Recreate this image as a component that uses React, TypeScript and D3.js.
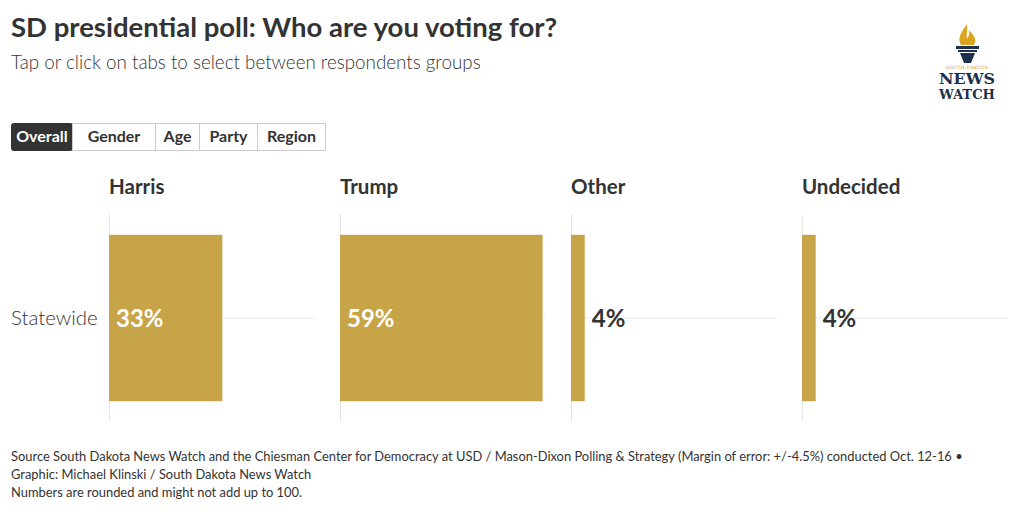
import React, { useEffect } from 'react';
import * as d3 from 'd3';

const title = 'SD presidential poll: Who are you voting for?';
const subtitle = 'Tap or click on tabs to select between respondents groups';
const tabs = ['Overall', 'Gender', 'Age', 'Party', 'Region'];
const tabWidths = [61, 83, 44, 58, 68];
const candidates = ['Harris', 'Trump', 'Other', 'Undecided'];
const groups = ['Statewide'];
const values = [[33, 59, 4, 4]];
const footer = [
    'Source South Dakota News Watch and the Chiesman Center for Democracy at USD / Mason-Dixon Polling & Strategy (Margin of error: +/-4.5%) conducted Oct. 12-16 \u2022',
    'Graphic: Michael Klinski / South Dakota News Watch',
    'Numbers are rounded and might not add up to 100.',
];

const width = 1020;
const height = 512;
const font = 'Lato, "Open Sans", sans-serif';
const barColor = '#c8a448';
const ink = '#333333';

const App: React.FC = () => {
    useEffect(() => {
        document.body.style.margin = '0';
    }, []);

    const panel = d3.scaleBand<string>()
        .domain(candidates)
        .range([109, 1008])
        .paddingInner(0.108)
        .paddingOuter(0);

    const row = d3.scaleBand<string>()
        .domain(groups)
        .range([214, 422])
        .paddingInner(0.2)
        .paddingOuter(0.1);

    const x = d3.scaleLinear().domain([0, 60]).range([0, panel.bandwidth()]);

    const tabX = d3.cumsum([0, ...tabWidths]).map(v => v + 11);

    return (
        <svg width={width} height={height} viewBox={`0 0 ${width} ${height}`} style={{ display: 'block', fontFamily: font }}>
            <rect width={width} height={height} fill="#fff" />
            <text x={11} y={37} fontSize={27.5} fontWeight={700} fill={ink}>{title}</text>
            <text x={11} y={69} fontSize={18.8} fontWeight={300} fill={ink}>{subtitle}</text>

            {/* logo */}
            <g>
                <path d="M967,24 C961,33 957,38 961,45 L974,45 C978,38 972,34 969,30 C970,35 968,37 967,39 C966,34 968,29 967,24 Z" fill="#d9a521" />
                <rect x={956} y={46} width={23} height={3} fill="#1d2f4f" />
                <rect x={958} y={50} width={19} height={2} fill="#1d2f4f" />
                <path d="M960,53 L975,53 L971,63 L964,63 Z" fill="#1d2f4f" />
                <text x={967} y={69} fontSize={4.5} textAnchor="middle" fill="#c9962a" fontFamily="DejaVu Serif, serif" letterSpacing={0.3}>SOUTH DAKOTA</text>
                <text x={967} y={84} fontSize={15} fontWeight={700} textAnchor="middle" fill="#1d2f4f" fontFamily="DejaVu Serif, serif" textLength={56} lengthAdjust="spacingAndGlyphs">NEWS</text>
                <text x={967} y={99} fontSize={12} fontWeight={700} textAnchor="middle" fill="#1d2f4f" fontFamily="DejaVu Serif, serif" textLength={56} lengthAdjust="spacingAndGlyphs">WATCH</text>
            </g>

            {/* tabs */}
            <g>
                {tabs.map((t, i) => (
                    <g key={t}>
                        <rect x={tabX[i] + 0.5} y={123.5} width={tabWidths[i]} height={27} fill={i === 0 ? ink : '#fff'} stroke={i === 0 ? ink : '#cccccc'} rx={i === 0 ? 2 : 0} />
                        <text x={tabX[i] + tabWidths[i] / 2 + 0.5} y={142} fontSize={16} fontWeight={700} textAnchor="middle" fill={i === 0 ? '#fff' : ink}>{t}</text>
                    </g>
                ))}
            </g>

            {/* panels */}
            {candidates.map((c, ci) => {
                const px = panel(c)!;
                return (
                    <g key={c} transform={`translate(${px},0)`}>
                        <text x={0} y={194} fontSize={20.5} fontWeight={700} fill={ink}>{c}</text>
                        <line x1={0.5} x2={0.5} y1={214} y2={422} stroke="#e6e6e6" />
                        {groups.map((g, gi) => {
                            const y0 = row(g)!;
                            const yc = y0 + row.bandwidth() / 2;
                            const v = values[gi][ci];
                            const w = x(v);
                            const inside = w > 60;
                            return (
                                <g key={g}>
                                    <line x1={w} x2={panel.bandwidth()} y1={yc} y2={yc} stroke="#e8e8e8" />
                                    <rect x={0} y={y0} width={w} height={row.bandwidth()} fill={barColor} />
                                    {inside ? (
                                        <text x={7} y={yc + 8.5} fontSize={24} fontWeight={700} fill="#fff" stroke={barColor} strokeWidth={4} paintOrder="stroke">{v}%</text>
                                    ) : (
                                        <text x={w + 7} y={yc + 8.5} fontSize={24} fontWeight={700} fill={ink}>{v}%</text>
                                    )}
                                </g>
                            );
                        })}
                    </g>
                );
            })}

            {groups.map(g => (
                <text key={g} x={11} y={row(g)! + row.bandwidth() / 2 + 7} fontSize={20.4} fontWeight={300} fill={ink}>{g}</text>
            ))}

            {/* footer */}
            {footer.map((f, i) => (
                <text key={i} x={11} y={461 + i * 18} fontSize={12.9} fill={ink}>{f}</text>
            ))}
        </svg>
    );
};

export default App;
